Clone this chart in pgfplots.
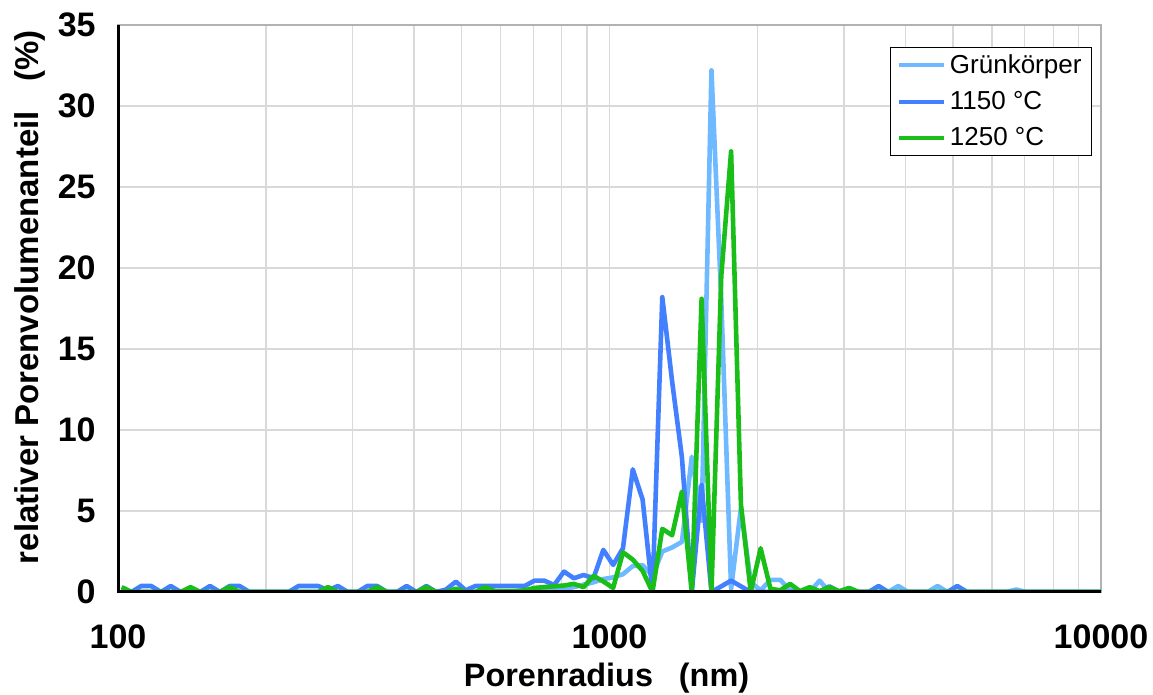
\documentclass[border=0pt]{standalone}
\usepackage{fontspec}
\setmainfont{Liberation Sans}
\usepackage{pgfplots}
\pgfplotsset{compat=1.18}
\definecolor{cgk}{RGB}{110,185,255}
\definecolor{cA}{RGB}{66,128,255}
\definecolor{cB}{RGB}{25,190,25}
\definecolor{gridc}{RGB}{217,217,217}
\begin{document}
\begin{tikzpicture}
\path[use as bounding box] (-59pt,-51.5pt) rectangle (517.5pt,296pt);
\begin{axis}[
  name=ax, at={(0,0)}, anchor=south west,
  scale only axis, width=491.5pt, height=283.5pt,
  xmode=log, xmin=100, xmax=10000, ymin=0, ymax=35,
  xtick={100,1000,10000}, xticklabels={100,1000,10000},
  ytick={0,5,10,15,20,25,30,35}, yticklabels={0,5,10,15,20,25,30,35},
  grid=both,
  major grid style={draw=gridc, line width=0.6pt},
  minor grid style={draw=gridc, line width=0.6pt},
  major tick length=0pt, minor tick length=0pt,
  axis line style={draw=gray!60, line width=0.8pt},
  ticklabel style={font=\fontsize{17}{17}\selectfont\bfseries, inner sep=0pt},
  xticklabel style={anchor=center, yshift=-22.5pt},
  yticklabel style={anchor=east, xshift=-11pt},
  xlabel={Porenradius\hspace{0.8em}(nm)},
  ylabel={relativer Porenvolumenanteil\hspace{0.9em}(\%)},
  label style={font=\fontsize{16.2}{16.2}\selectfont\bfseries},
  xlabel style={at={(axis description cs:0.497,-0.152)}, anchor=center},
  ylabel style={at={(axis description cs:-0.0895,0.52)}, anchor=center, font=\fontsize{16.5}{16.5}\selectfont\bfseries},
  legend style={at={(axis description cs:0.7853,0.9612)}, anchor=north west,
    draw=black, line width=0.6pt, fill=white,
    font=\fontsize{13}{13}\selectfont, inner xsep=3pt, inner ysep=1.3pt, row sep=3.6pt,
    cells={anchor=west}},
  legend image code/.code={\draw[#1, line width=2.2pt] (0pt,0pt) -- (22.5pt,0pt);},
  every axis plot/.append style={line width=2.3pt, line join=round},
]
\addplot[color=cgk] coordinates {(101.7,0.1)(106.5,0)(612.9,0)(672.1,0.1)(703.7,0.05)(736.9,0.1)(771.6,0.15)(808.0,0.2)(846.1,0.3)(885.9,0.45)(927.7,0.6)(971.4,0.8)(1017.2,0.9)(1065.1,1.1)(1115.3,1.6)(1167.9,1.65)(1222.9,1.0)(1280.6,2.5)(1340.9,2.75)(1404.1,3.1)(1470.3,8.35)(1539.6,4.4)(1612.2,32.2)(1688.2,18)(1767.7,0.2)(1851.1,5.2)(1938.3,0.6)(2029.7,0.1)(2125.4,0.75)(2225.5,0.75)(2330.4,0.1)(2440.3,0)(2555.3,0)(2675.7,0.7)(2801.8,0)(3693.7,0)(3867.8,0.37)(4050.1,0)(4440.9,0)(4650.2,0.37)(4869.4,0)(6419.3,0)(6721.9,0.15)(7038.7,0)(10000,0)};
\addlegendentry{Grünkörper}
\addplot[color=cA] coordinates {(101.7,0.1)(106.5,0)(111.5,0.37)(116.8,0.37)(122.3,0)(128.0,0.37)(134.1,0)(140.4,0.15)(147.0,0)(153.9,0.37)(161.2,0)(168.8,0.37)(176.7,0.37)(185.1,0)(222.5,0)(233.0,0.37)(244.0,0.37)(255.5,0.37)(267.5,0.1)(280.1,0.37)(293.3,0)(307.2,0)(321.6,0.37)(336.8,0.37)(352.7,0)(369.3,0)(386.7,0.37)(404.9,0)(424.0,0.37)(444.0,0)(464.9,0.15)(486.9,0.64)(509.8,0.1)(533.8,0.37)(559.0,0.37)(585.3,0.37)(612.9,0.37)(641.8,0.37)(672.1,0.37)(703.7,0.7)(736.9,0.7)(771.6,0.43)(808.0,1.26)(846.1,0.85)(885.9,1.05)(927.7,0.85)(971.4,2.6)(1017.2,1.67)(1065.1,2.7)(1115.3,7.57)(1167.9,5.7)(1222.9,0)(1280.6,18.2)(1340.9,13)(1404.1,8.3)(1470.3,0)(1539.6,6.6)(1612.2,0)(1688.2,0.35)(1767.7,0.7)(1851.1,0.35)(1938.3,0)(2675.7,0)(2801.8,0.35)(2933.9,0)(3368.6,0)(3527.4,0.37)(3693.7,0)(4869.4,0)(5098.9,0.37)(5339.2,0)(10000,0)};
\addlegendentry{1150 °C}
\addplot[color=cB] coordinates {(101.7,0.3)(106.5,0)(134.1,0)(140.4,0.3)(147.0,0)(161.2,0)(168.8,0.3)(176.7,0)(255.5,0)(267.5,0.3)(280.1,0)(321.6,0)(336.8,0.3)(352.7,0)(404.9,0)(424.0,0.3)(444.0,0)(464.9,0)(486.9,0.2)(509.8,0)(533.8,0)(559.0,0.3)(585.3,0.05)(612.9,0.05)(641.8,0.05)(672.1,0.1)(703.7,0.25)(736.9,0.3)(771.6,0.35)(808.0,0.4)(846.1,0.5)(885.9,0.3)(927.7,1.0)(971.4,0.65)(1017.2,0.25)(1065.1,2.45)(1115.3,2.0)(1167.9,1.3)(1222.9,0)(1280.6,3.9)(1340.9,3.5)(1404.1,6.2)(1470.3,0)(1539.6,18.1)(1612.2,0)(1688.2,19.5)(1767.7,27.2)(1851.1,5.4)(1938.3,0)(2029.7,2.7)(2125.4,0.2)(2225.5,0.1)(2330.4,0.5)(2440.3,0.05)(2555.3,0.3)(2675.7,0.05)(2801.8,0.3)(2933.9,0.05)(3072.2,0.25)(3217.0,0)(10000,0)};
\addlegendentry{1250 °C}
\end{axis}
\draw[black, line width=1.5pt] (ax.north west) -- (ax.south west) -- (ax.south east);
\end{tikzpicture}
\end{document}
